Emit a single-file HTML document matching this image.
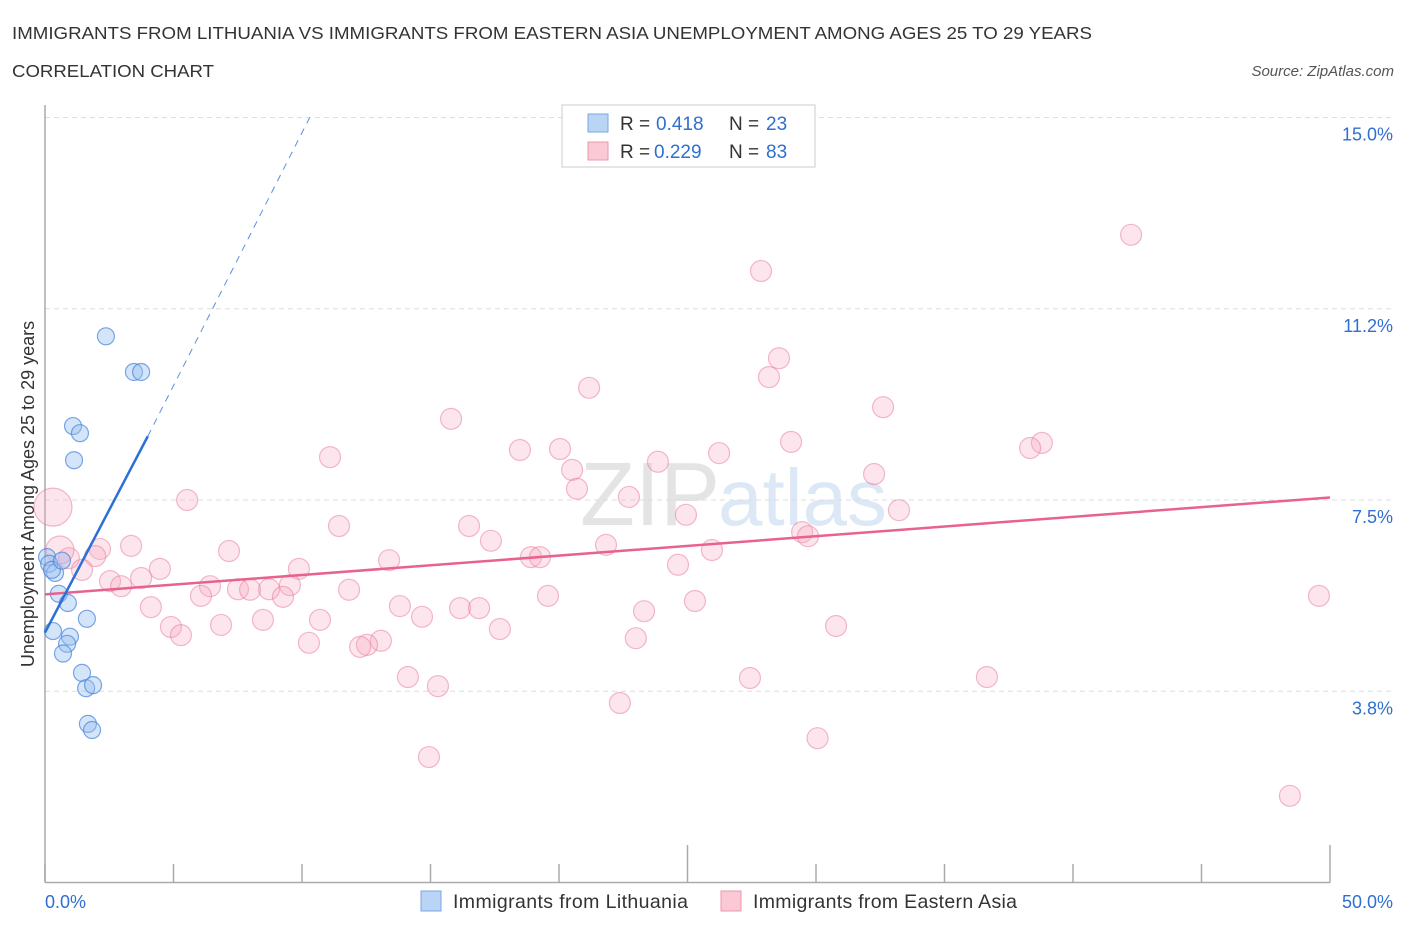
<!DOCTYPE html>
<html><head><meta charset="utf-8"><style>
body{margin:0;background:#fff;font-family:"Liberation Sans",sans-serif;}
svg text{font-family:"Liberation Sans",sans-serif;}
</style></head><body>
<svg id="c" width="1406" height="930">
<text x="12" y="39" font-size="17.5" fill="#333" textLength="1080" lengthAdjust="spacingAndGlyphs">IMMIGRANTS FROM LITHUANIA VS IMMIGRANTS FROM EASTERN ASIA UNEMPLOYMENT AMONG AGES 25 TO 29 YEARS</text>
<text x="12" y="77" font-size="17.5" fill="#333" textLength="202" lengthAdjust="spacingAndGlyphs">CORRELATION CHART</text>
<text x="1394" y="76" font-size="15" fill="#555" font-style="italic" text-anchor="end">Source: ZipAtlas.com</text>
<text x="720" y="525" font-size="90" fill="#e4e4e4" text-anchor="end" font-family="Liberation Serif">ZIP</text>
<text x="718" y="525" font-size="80" fill="#dce8f6">atlas</text>
<g id="grid"></g>
<g id="axes"></g>
<g id="pts"></g>
<g id="trend"></g>
<text transform="translate(34,494) rotate(-90)" font-size="18" fill="#333" text-anchor="middle">Unemployment Among Ages 25 to 29 years</text>
<g>
<rect x="562" y="105" width="253" height="62" fill="#fff" stroke="#ccc"/>
<rect x="588" y="114" width="20" height="18" fill="#b9d4f5" stroke="#7aa7e3"/>
<text x="620" y="130" font-size="19" fill="#333">R =</text>
<text x="656" y="130" font-size="19" fill="#2f6fd1">0.418</text>
<text x="729" y="130" font-size="19" fill="#333">N =</text>
<text x="766" y="130" font-size="19" fill="#2f6fd1">23</text>
<rect x="588" y="142" width="20" height="18" fill="#fbc8d6" stroke="#ec97ae"/>
<text x="620" y="158" font-size="19" fill="#333">R =</text>
<text x="654" y="158" font-size="19" fill="#2f6fd1">0.229</text>
<text x="729" y="158" font-size="19" fill="#333">N =</text>
<text x="766" y="158" font-size="19" fill="#2f6fd1">83</text>
</g>
<g>
<rect x="421" y="891" width="20" height="20" fill="#b9d4f5" stroke="#7aa7e3"/>
<text x="453" y="908" font-size="19.5" fill="#333" textLength="235">Immigrants from Lithuania</text>
<rect x="721" y="891" width="20" height="20" fill="#fbc8d6" stroke="#ec97ae"/>
<text x="753" y="908" font-size="19.5" fill="#333" textLength="264">Immigrants from Eastern Asia</text>
</g>
</svg>
<script>
const yTicks=[15.0,11.25,7.5,3.75];
const yTickLabels=["15.0%","11.2%","7.5%","3.8%"];
const xTicks=[0,5,10,15,20,25,30,35,40,45,50];
const blueX=[0.08,0.16,0.39,0.27,0.54,0.89,1.63,0.31,0.97,0.86,0.70,1.44,1.60,1.87,1.67,1.83,2.37,3.46,3.74,1.09,1.36,1.13,0.66];
const blueY=[6.38,6.25,6.07,6.13,5.66,5.48,5.17,4.93,4.82,4.68,4.49,4.11,3.81,3.87,3.11,2.99,10.71,10.01,10.01,8.95,8.81,8.28,6.31];
const pinkX=[42.26,27.86,28.56,28.17,21.17,32.61,15.80,29.03,38.79,38.33,18.48,20.04,26.23,23.85,20.51,32.26,20.70,11.09,5.53,22.72,33.23,24.94,11.44,16.50,29.46,29.69,17.35,3.35,21.83,2.14,7.16,25.95,1.95,13.39,18.91,19.26,0.93,4.47,9.88,24.63,1.44,3.74,2.53,2.96,6.42,7.51,7.98,9.53,8.72,6.07,9.26,11.83,19.57,49.57,25.29,4.12,13.81,16.15,16.89,23.31,8.48,10.70,14.67,6.85,4.90,17.70,30.78,5.29,10.27,13.07,12.53,12.26,22.99,14.12,15.29,27.43,36.65,22.37,30.06,14.94,48.44,0.31,0.58];
const pinkY=[12.70,11.99,10.28,9.91,9.70,9.32,9.09,8.64,8.62,8.52,8.48,8.50,8.42,8.25,8.09,8.01,7.72,8.34,7.50,7.56,7.30,7.21,6.99,6.99,6.87,6.79,6.70,6.60,6.62,6.54,6.50,6.52,6.40,6.32,6.38,6.38,6.36,6.15,6.15,6.23,6.13,5.97,5.91,5.81,5.81,5.75,5.74,5.83,5.75,5.62,5.60,5.74,5.62,5.62,5.52,5.40,5.42,5.38,5.38,5.32,5.15,5.15,5.21,5.05,5.01,4.97,5.03,4.85,4.70,4.74,4.66,4.62,4.79,4.03,3.85,4.01,4.03,3.52,2.83,2.46,1.70,7.36,6.52];
const pinkR=[];for(let i=0;i<pinkX.length;i++)pinkR.push(i===81?19:(i===82?14:10.5));
const blueTrend=[[0,4.9],[4.0,8.75]];
const blueTrendExt=[[4.0,8.75],[10.3,15.0]];
const pinkTrend=[[0,5.65],[50,7.55]];
const NS="http://www.w3.org/2000/svg";
const X0=45,X1=1330,Y0=882.5,Y15=117.5;
const sx=v=>X0+v/50*(X1-X0);
const sy=v=>Y0-v/15*(Y0-Y15);
function mk(tag,attrs,parent){const e=document.createElementNS(NS,tag);for(const k in attrs)e.setAttribute(k,attrs[k]);parent.appendChild(e);return e;}
const grid=document.getElementById('grid'),axes=document.getElementById('axes'),pts=document.getElementById('pts'),tr=document.getElementById('trend');
yTicks.forEach((t,i)=>{
 const l=mk('line',{x1:X0,x2:1392,y1:sy(t),y2:sy(t),stroke:'#ddd','stroke-dasharray':'5,4'},grid);
 
 
 const tx=mk('text',{x:1393,y:sy(t)+23,'font-size':18,fill:'#2f6fd1','text-anchor':'end'},grid);
 tx.textContent=yTickLabels[i];
 
 
});
let a=mk('line',{x1:X0,x2:X0,y1:105,y2:Y0,stroke:'#aaa','stroke-width':1.5},axes);


a=mk('line',{x1:X0,x2:X1,y1:Y0,y2:Y0,stroke:'#aaa','stroke-width':1.5},axes);


xTicks.forEach(t=>{
 const l=mk('line',{x1:sx(t),x2:sx(t),y1:Y0,y2:(t%25===0&&t>0)?845:864,stroke:'#aaa','stroke-width':1.5},axes);
 
 
});
let t1=mk('text',{x:45,y:908,'font-size':18,fill:'#2f6fd1'},axes);t1.textContent='0.0%';


let t2=mk('text',{x:1393,y:908,'font-size':18,fill:'#2f6fd1','text-anchor':'end'},axes);t2.textContent='50.0%';


pinkX.forEach((v,i)=>{
 const c=mk('circle',{cx:sx(v),cy:sy(pinkY[i]),r:pinkR[i],fill:'rgba(246,170,192,0.3)',stroke:'rgba(232,120,152,0.5)','stroke-width':1.2},pts);
 
 
});
blueX.forEach((v,i)=>{
 const c=mk('circle',{cx:sx(v),cy:sy(blueY[i]),r:8.5,fill:'rgba(150,190,240,0.4)',stroke:'rgba(70,130,220,0.7)','stroke-width':1.2},pts);
 
 
});
let l=mk('line',{x1:sx(pinkTrend[0][0]),y1:sy(pinkTrend[0][1]),x2:sx(pinkTrend[1][0]),y2:sy(pinkTrend[1][1]),stroke:'#e8628e','stroke-width':2.5},tr);


l=mk('line',{x1:sx(blueTrend[0][0]),y1:sy(blueTrend[0][1]),x2:sx(blueTrend[1][0]),y2:sy(blueTrend[1][1]),stroke:'#2c6fd6','stroke-width':2.5},tr);


l=mk('line',{x1:sx(blueTrendExt[0][0]),y1:sy(blueTrendExt[0][1]),x2:sx(blueTrendExt[1][0]),y2:sy(blueTrendExt[1][1]),stroke:'#5b8fe0','stroke-width':1,'stroke-dasharray':'7,6'},tr);


</script>
</body></html>
